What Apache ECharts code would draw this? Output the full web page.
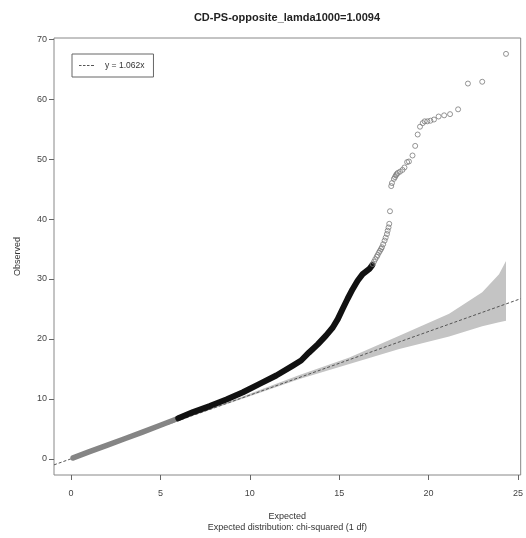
<!DOCTYPE html>
<html><head><meta charset="utf-8">
<script src="https://cdn.jsdelivr.net/npm/echarts@6/dist/echarts.min.js"></script>
<style>html,body{margin:0;padding:0;background:#fff}#c{width:526px;height:538px}</style>
</head><body><div id="c"></div>
<script>
// ---- data ----
const xTicks = [0, 5, 10, 15, 20, 25];
const yTicks = [0, 10, 20, 30, 40, 50, 60, 70];
// dense run of points, lower part (appears grey)
const denseLow = [[0.12,0.15],[1,1.15],[2,2.25],[3,3.35],[4,4.45],[5,5.6],[6.05,6.8]];
// dense run of points, middle part (appears solid black)
const denseMid = [[6,6.75],[6.83,7.8],[7.76,8.8],[8.69,9.9],[9.62,11.1],[10.55,12.5],[11.48,13.9],
  [12.41,15.55],[12.87,16.4],[13.3,17.7],[13.8,19.1],[14.26,20.55],[14.64,21.9],[14.92,23.3],
  [15.19,25.0],[15.47,26.7],[15.75,28.3],[16.03,29.7],[16.31,30.8],[16.69,31.7],[16.85,32.3]];
// separate points in the upper tail
const tail = [[16.87,32.5],[16.95,32.9],[17.02,33.3],[17.1,33.7],[17.15,34.0],[17.22,34.4],[17.28,34.7],
  [17.34,35.0],[17.39,35.3],[17.46,35.8],[17.54,36.4],[17.6,36.9],[17.67,37.5],[17.71,38.05],
  [17.76,38.6],[17.8,39.2],[17.84,41.3],[17.91,45.5],[17.95,46.0],[18.06,46.7],[18.12,47.0],
  [18.17,47.3],[18.22,47.5],[18.28,47.7],[18.4,47.9],[18.54,48.2],[18.65,48.6],[18.8,49.5],
  [18.9,49.6],[19.1,50.6],[19.25,52.2],[19.39,54.1],[19.52,55.4],[19.67,56.0],[19.78,56.3],
  [19.93,56.3],[20.1,56.4],[20.3,56.6],[20.56,57.1],[20.87,57.3],[21.2,57.5],[21.65,58.3],
  [22.2,62.6],[23.0,62.9],[24.33,67.55]];
// reference line y = 1.062x, end points at the plot edges
const refLine = [[-0.95,-1.01],[25.15,26.71]];
// confidence band
const bandX     = [6,    8,    10,    12.78, 15.57, 18.36, 21.15, 23.0, 23.94, 24.33];
const bandLower = [6.35, 8.4,  10.45, 13.3,  15.8,  18.3,  20.4,  22.1, 22.8,  23.05];
const bandUpper = [6.39, 8.62, 10.85, 14.0,  16.9,  20.55, 24.2,  27.8, 30.8,  33.0];

const chart = echarts.init(document.getElementById('c'), null, {renderer:'canvas'});
const FONT = 'Liberation Sans, Arial, sans-serif';
chart.setOption({
  animation: false,
  backgroundColor: '#fff',
  title: {
    text: 'CD-PS-opposite_lamda1000=1.0094',
    left: 282, textAlign: 'center', top: 7,
    textStyle: {fontFamily: FONT, fontSize: 11, fontWeight: 'bold', color: '#222'}
  },
  legend: {
    data: [{name: 'y = 1.062x',
      icon: 'path://M0,0h2.5v1h-2.5z M4,0h2.5v1h-2.5z M8,0h2.5v1h-2.5z M12,0h3v1h-3z'}],
    left: 72, top: 54, orient: 'vertical',
    padding: [7, 9, 7, 7],
    itemWidth: 15, itemHeight: 1,
    backgroundColor: '#fff', borderColor: '#666', borderWidth: 1,
    textStyle: {fontFamily: FONT, fontSize: 8.5, color: '#333', padding: [0,0,0,6], lineHeight: 9}
  },
  grid: {left: 54, right: 4, top: 38, bottom: 62, show: true, borderColor: '#888', borderWidth: 1},
  xAxis: {
    type: 'value', min: -0.95, max: 25.15,
    name: 'Expected\nExpected distribution: chi-squared (1 df)',
    nameLocation: 'middle', nameGap: 36,
    nameTextStyle: {fontFamily: FONT, fontSize: 9, color: '#333', lineHeight: 11},
    axisLine: {show: false, onZero: false},
    splitLine: {show: false},
    axisTick: {show: true, inside: false, length: 5, lineStyle: {color: '#666'}, customValues: xTicks},
    axisLabel: {fontFamily: FONT, fontSize: 9, color: '#444', margin: 14, customValues: xTicks}
  },
  yAxis: {
    type: 'value', min: -2.7, max: 70.2,
    name: 'Observed', nameLocation: 'middle', nameGap: 32,
    nameTextStyle: {fontFamily: FONT, fontSize: 9, color: '#333'},
    axisLine: {show: false, onZero: false},
    splitLine: {show: false},
    axisTick: {show: true, inside: false, length: 5, lineStyle: {color: '#666'}, customValues: yTicks},
    axisLabel: {fontFamily: FONT, fontSize: 9, color: '#444', margin: 7, customValues: yTicks}
  },
  series: [
    {
      type: 'custom', name: 'band', silent: true, z: 1,
      data: [[bandX[0], bandLower[0]]],
      renderItem: function (params, api) {
        const pts = [];
        for (let i = 0; i < bandX.length; i++) pts.push(api.coord([bandX[i], bandUpper[i]]));
        for (let i = bandX.length - 1; i >= 0; i--) pts.push(api.coord([bandX[i], bandLower[i]]));
        return {type: 'polygon', shape: {points: pts}, style: {fill: '#c4c4c4'}};
      }
    },
    {
      type: 'line', name: 'y = 1.062x', data: refLine, symbol: 'none', z: 2,
      lineStyle: {color: '#555', width: 1, type: [3, 2]}, itemStyle: {color: '#555'}
    },
    {
      type: 'line', name: 'dense-low', data: denseLow, symbol: 'none', z: 3,
      lineStyle: {color: '#858585', width: 5.5, cap: 'round', join: 'round'}
    },
    {
      type: 'line', name: 'dense-mid', data: denseMid, symbol: 'none', z: 4,
      lineStyle: {color: '#111', width: 6, cap: 'round', join: 'round'}
    },
    {
      type: 'scatter', name: 'tail', data: tail, symbol: 'circle', symbolSize: 5, z: 5,
      itemStyle: {color: 'rgba(255,255,255,0)', borderColor: '#7a7a7a', borderWidth: 1}
    }
  ]
});
</script></body></html>
